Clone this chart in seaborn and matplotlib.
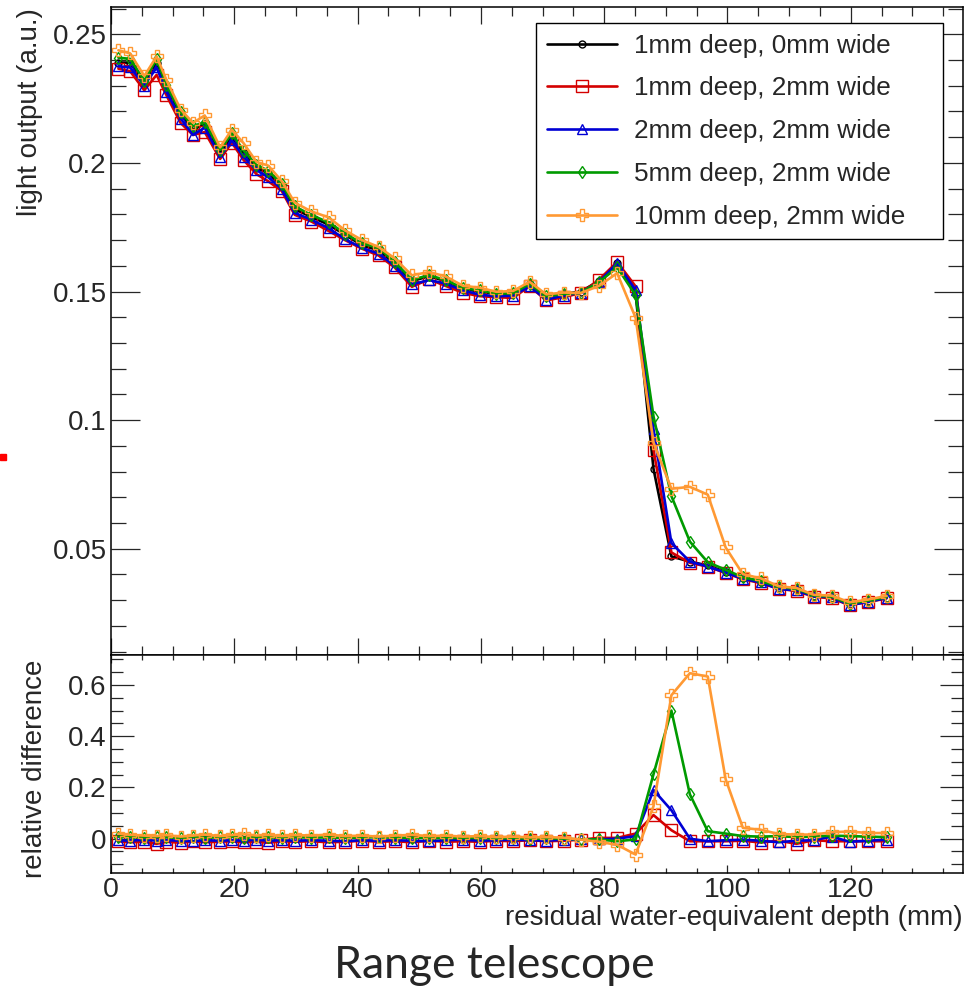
import numpy as np
import pandas as pd
import matplotlib
matplotlib.use("Agg")
import matplotlib.pyplot as plt
import seaborn as sns
from matplotlib.ticker import MultipleLocator
from matplotlib.patches import Rectangle

# ---------------- data ----------------
depth_mm = [1.2, 3.1, 5.4, 7.4, 9.0, 11.3, 13.3, 15.2, 17.7, 19.6,
            21.5, 23.6, 25.5, 27.7, 29.8, 32.5, 35.3, 38.0, 40.7, 43.4,
            46.0, 48.8, 51.6, 54.3, 57.1, 59.8, 62.5, 65.2, 67.9, 70.6,
            73.4, 76.2, 79.1, 82.1, 85.1, 88.0, 90.9, 93.9, 96.8, 99.7,
            102.5, 105.4, 108.3, 111.2, 114.0, 116.9, 119.8, 122.8, 125.8]

# light output of the reference (1mm deep, 0mm wide)
light_ref = [0.239, 0.239, 0.231, 0.239, 0.229, 0.219, 0.213, 0.215, 0.204, 0.210,
             0.204, 0.198, 0.196, 0.191, 0.182, 0.179, 0.176, 0.172, 0.168, 0.166,
             0.161, 0.154, 0.156, 0.154, 0.151, 0.150, 0.149, 0.149, 0.153, 0.148,
             0.149, 0.150, 0.154, 0.161, 0.149, 0.081, 0.047, 0.045, 0.0435, 0.041,
             0.0385, 0.0372, 0.0348, 0.0342, 0.0316, 0.0310, 0.0284, 0.0296, 0.0310]

# relative difference to the reference
rel_1mm_0mm = [0.0] * len(depth_mm)
rel_1mm_2mm = [-0.010, -0.014, -0.012, -0.020, -0.012, -0.016, -0.010, -0.014, -0.012, -0.010,
               -0.014, -0.012, -0.016, -0.010, -0.012, -0.010, -0.014, -0.012, -0.008, -0.012,
               -0.010, -0.014, -0.008, -0.012, -0.010, -0.012, -0.008, -0.010, -0.006, -0.010,
               -0.008, -0.004, 0.003, 0.003, 0.020, 0.092, 0.033, -0.010, -0.010, -0.010,
               -0.008, -0.015, -0.008, -0.020, -0.006, -0.010, -0.010, -0.010, -0.010]
rel_2mm_2mm = [-0.006, -0.008, -0.004, -0.008, -0.006, -0.008, -0.010, -0.006, -0.008, -0.006,
               -0.008, -0.004, -0.008, -0.006, -0.008, -0.006, -0.008, -0.010, -0.006, -0.008,
               -0.006, -0.008, -0.010, -0.006, -0.004, -0.008, -0.006, -0.004, -0.006, -0.008,
               -0.004, -0.003, -0.003, 0.000, 0.010, 0.190, 0.111, 0.000, -0.010, -0.006,
               -0.004, -0.008, -0.014, -0.008, -0.006, 0.008, -0.012, -0.008, -0.004]
rel_5mm_2mm = [0.008, 0.006, 0.004, 0.006, 0.005, 0.003, 0.006, 0.004, 0.005, 0.007,
               0.004, 0.006, 0.005, 0.004, 0.006, 0.004, 0.005, 0.003, 0.004, 0.006,
               0.003, 0.004, 0.002, 0.003, 0.002, 0.003, 0.001, 0.002, 0.000, 0.001,
               0.000, -0.003, -0.003, -0.010, -0.003, 0.252, 0.500, 0.173, 0.029, 0.020,
               0.010, 0.008, 0.010, 0.006, 0.008, 0.012, 0.010, 0.008, 0.006]
rel_10mm_2mm = [0.020, 0.015, 0.012, 0.010, 0.014, 0.008, 0.012, 0.016, 0.010, 0.014,
                0.018, 0.012, 0.015, 0.010, 0.014, 0.012, 0.016, 0.010, 0.012, 0.008,
                0.012, 0.015, 0.010, 0.012, 0.008, 0.010, 0.006, 0.008, 0.005, 0.006,
                0.004, -0.004, -0.012, -0.024, -0.062, 0.127, 0.560, 0.646, 0.633, 0.232,
                0.042, 0.035, 0.018, 0.016, 0.016, 0.025, 0.028, 0.022, 0.022]

series_labels = ["1mm deep, 0mm wide", "1mm deep, 2mm wide", "2mm deep, 2mm wide",
                 "5mm deep, 2mm wide", "10mm deep, 2mm wide"]
series_rel = [rel_1mm_0mm, rel_1mm_2mm, rel_2mm_2mm, rel_5mm_2mm, rel_10mm_2mm]

# ---------------- style ----------------
colors = ["#000000", "#d40000", "#0000d4", "#009a00", "#ff9933"]
markers = ["o", "s", "^", "d", "P"]
msizes = [5, 8, 7, 6, 9]

rows = []
for lab, rel in zip(series_labels, series_rel):
    for d, r, ref in zip(depth_mm, rel, light_ref):
        rows.append({"depth": d, "series": lab, "rel": r, "light": ref * (1.0 + r)})
df = pd.DataFrame(rows)

sns.set_style("white")
plt.rcParams["font.family"] = ["Liberation Sans", "DejaVu Sans"]

W, H = 969, 990
fig = plt.figure(figsize=(W / 100, H / 100), dpi=100)
L, R = 111, 963
ax1 = fig.add_axes([L / W, (H - 655) / H, (R - L) / W, (655 - 7) / H])
ax2 = fig.add_axes([L / W, (H - 873) / H, (R - L) / W, (873 - 655) / H])

for i, (lab, c, m, ms) in enumerate(zip(series_labels, colors, markers, msizes)):
    sub = df[df["series"] == lab]
    panels = [(ax1, "light")] if i == 0 else [(ax1, "light"), (ax2, "rel")]
    for ax, col in panels:
        sns.lineplot(data=sub, x="depth", y=col, ax=ax, color=c, marker=m,
                     markersize=ms, markerfacecolor="none", markeredgecolor=c,
                     markeredgewidth=1.0, linewidth=1.9, estimator=None,
                     sort=False, label=lab if ax is ax1 else None, legend=False)

ax1.set_xlim(0, 138.2)
ax2.set_xlim(0, 138.2)
ax1.set_ylim(0.0087, 0.2606)
ax2.set_ylim(-0.134, 0.717)

for ax in (ax1, ax2):
    ax.xaxis.set_major_locator(MultipleLocator(20))
    ax.xaxis.set_minor_locator(MultipleLocator(5))
    for s in ax.spines.values():
        s.set_linewidth(1.1)
        s.set_color("black")

ax1.yaxis.set_major_locator(MultipleLocator(0.05))
ax1.yaxis.set_minor_locator(MultipleLocator(0.01))
ax2.yaxis.set_major_locator(MultipleLocator(0.2))
ax2.yaxis.set_minor_locator(MultipleLocator(0.05))

ax1.set_yticks([0.05, 0.1, 0.15, 0.2, 0.25])
ax1.set_yticklabels(["0.05", "0.1", "0.15", "0.2", "0.25"])
ax2.set_yticks([0.0, 0.2, 0.4, 0.6])
ax2.set_yticklabels(["0", "0.2", "0.4", "0.6"])
ax2.set_xticks([0, 20, 40, 60, 80, 100, 120])

px = 0.72
ax1.tick_params(axis="y", which="major", direction="in", length=29 * px, width=0.9,
                left=True, right=True, labelsize=20, pad=3)
ax1.tick_params(axis="y", which="minor", direction="in", length=15 * px, width=0.9,
                left=True, right=True)
ax1.tick_params(axis="x", which="major", direction="in", length=17 * px, width=0.9,
                top=True, bottom=True, labelbottom=False)
ax1.tick_params(axis="x", which="minor", direction="in", length=9 * px, width=0.9,
                top=True, bottom=True)
ax2.tick_params(axis="y", which="major", direction="in", length=23 * px, width=0.9,
                left=True, right=True, labelsize=20, pad=3)
ax2.tick_params(axis="y", which="minor", direction="in", length=12 * px, width=0.9,
                left=True, right=True)
ax2.tick_params(axis="x", which="major", direction="in", length=8 * px, width=0.9,
                top=True, bottom=True, labelsize=20.5, pad=3)
ax2.tick_params(axis="x", which="minor", direction="in", length=5 * px, width=0.9,
                top=True, bottom=True)

ax1.set_xlabel("")
ax1.set_ylabel("light output (a.u.)", fontsize=20)
ax1.yaxis.set_label_coords(-0.095, 0.998)
ax1.yaxis.label.set(ha="right", va="center", rotation_mode="anchor")

ax2.set_ylabel("relative difference", fontsize=20)
ax2.yaxis.set_label_coords(-0.089, 0.977)
ax2.yaxis.label.set(ha="right", va="center", rotation_mode="anchor")

ax2.set_xlabel("residual water-equivalent depth (mm)", fontsize=20)
ax2.xaxis.set_label_coords(1.0, -0.205)
ax2.xaxis.label.set(ha="right", va="center")

handles, labels = ax1.get_legend_handles_labels()
leg = ax1.legend(handles, labels, loc="upper left",
                 bbox_to_anchor=(0.499, 0.645, 0.4775, 0.33), mode="expand",
                 fontsize=18.8, handlelength=2.7, handletextpad=0.65,
                 labelspacing=0.72, borderpad=0.4, borderaxespad=0.0,
                 fancybox=False, framealpha=1.0, edgecolor="black", numpoints=1)
leg.get_frame().set_linewidth(1.0)

fig.text(494 / W, 1 - 966 / H, "Range telescope", ha="center", va="center",
         fontsize=32, family=["Lato", "DejaVu Sans"])

fig.patches.append(Rectangle((0, (H - 460) / H), 6 / W, 6 / H,
                             transform=fig.transFigure, color="red", zorder=5))

fig.savefig("out.png", dpi=100)
